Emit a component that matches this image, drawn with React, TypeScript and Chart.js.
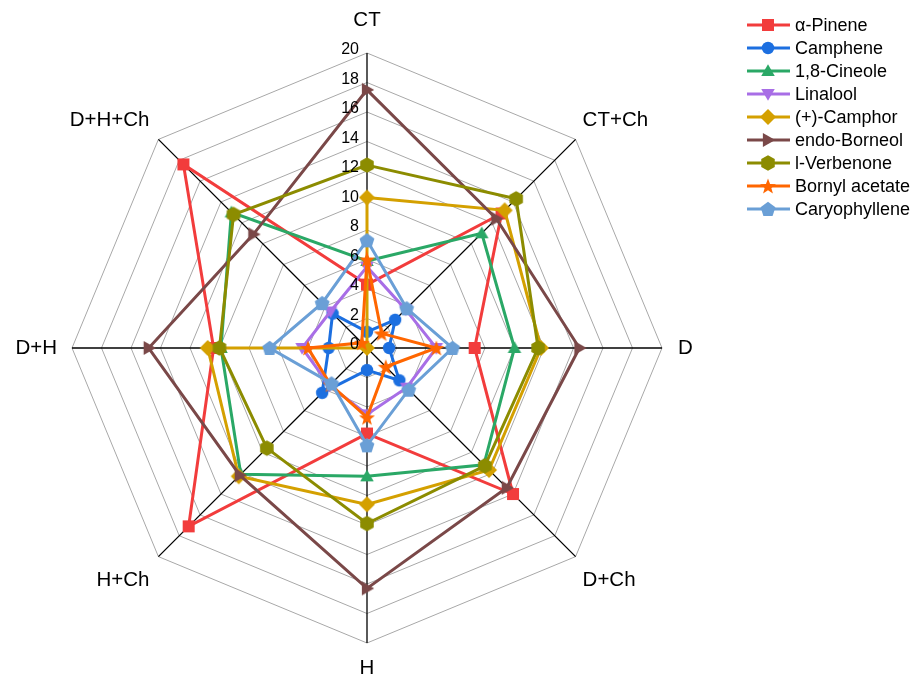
import React, { useEffect, useRef } from 'react';
import { Chart, registerables } from 'chart.js';

Chart.register(...registerables);

// ---------- data ----------
const categories = ['CT', 'CT+Ch', 'D', 'D+Ch', 'H', 'H+Ch', 'D+H', 'D+H+Ch'];
const seriesNames = ['α-Pinene', 'Camphene', '1,8-Cineole', 'Linalool', '(+)-Camphor', 'endo-Borneol', 'l-Verbenone', 'Bornyl acetate', 'Caryophyllene'];

const alphaPinene = [4.3, 12.9, 7.3, 14.0, 5.8, 17.1, 10.4, 17.6];
const camphene = [1.1, 2.7, 1.5, 3.1, 1.5, 4.3, 2.6, 3.3];
const cineole = [5.9, 11.0, 10.0, 11.2, 8.7, 12.1, 9.9, 13.0];
const linalool = [5.5, 3.7, 4.7, 3.8, 4.5, 3.6, 4.4, 3.5];
const camphor = [10.2, 13.2, 11.8, 11.7, 10.6, 12.3, 10.8, 0];
const borneol = [17.5, 12.4, 14.4, 13.4, 16.3, 12.2, 14.8, 10.9];
const verbenone = [12.4, 14.3, 11.6, 11.3, 11.9, 9.6, 10.0, 12.8];
const bornylAcetate = [6.0, 1.4, 4.7, 1.8, 4.7, 3.5, 4.0, 0.5];
const caryophyllene = [7.3, 3.8, 5.8, 4.0, 6.6, 3.4, 6.6, 4.3];

const tickValues = [0, 2, 4, 6, 8, 10, 12, 14, 16, 18, 20];

const seriesValues = [alphaPinene, camphene, cineole, linalool, camphor, borneol, verbenone, bornylAcetate, caryophyllene];
const seriesColors = ['#f23c3c', '#1c6fe0', '#2aa866', '#a86ee6', '#d4a000', '#7a4848', '#8c8c00', '#ff6600', '#6a9fd6'];
const seriesShapes = ['square', 'circle', 'triangleUp', 'triangleDown', 'diamond', 'triangleRight', 'hexagon', 'star', 'pentagon'];

const FONT = '"Liberation Sans", Arial, Helvetica, sans-serif';

function regularPolygon(ctx: CanvasRenderingContext2D, cx: number, cy: number, n: number, r: number, start: number) {
  for (let k = 0; k < n; k++) {
    const a = start + (k * 2 * Math.PI) / n;
    const x = cx + r * Math.cos(a);
    const y = cy + r * Math.sin(a);
    if (k === 0) ctx.moveTo(x, y);
    else ctx.lineTo(x, y);
  }
  ctx.closePath();
}

function makeMarker(shape: string, color: string): HTMLCanvasElement {
  const s = 20;
  const c = document.createElement('canvas');
  c.width = s;
  c.height = s;
  const ctx = c.getContext('2d') as CanvasRenderingContext2D;
  const cx = s / 2;
  const cy = s / 2;
  ctx.fillStyle = color;
  ctx.beginPath();
  const up = -Math.PI / 2;
  switch (shape) {
    case 'square':
      ctx.rect(cx - 6, cy - 6, 12, 12);
      break;
    case 'circle':
      ctx.arc(cx, cy, 6.2, 0, Math.PI * 2);
      break;
    case 'triangleUp':
      regularPolygon(ctx, cx, cy + 1, 3, 7.8, up);
      break;
    case 'triangleDown':
      regularPolygon(ctx, cx, cy - 1, 3, 7.8, Math.PI / 2);
      break;
    case 'diamond':
      regularPolygon(ctx, cx, cy, 4, 8, up);
      break;
    case 'triangleRight':
      regularPolygon(ctx, cx - 1, cy, 3, 8.2, 0);
      break;
    case 'hexagon':
      regularPolygon(ctx, cx, cy, 6, 7.8, up);
      break;
    case 'star': {
      for (let k = 0; k < 10; k++) {
        const r = k % 2 === 0 ? 8.4 : 3.5;
        const a = up + (k * Math.PI) / 5;
        const x = cx + r * Math.cos(a);
        const y = cy + 0.8 + r * Math.sin(a);
        if (k === 0) ctx.moveTo(x, y);
        else ctx.lineTo(x, y);
      }
      ctx.closePath();
      break;
    }
    case 'pentagon':
      regularPolygon(ctx, cx, cy + 0.6, 5, 7.8, up);
      break;
  }
  ctx.fill();
  return c;
}

export default function App() {
  const canvasRef = useRef<HTMLCanvasElement | null>(null);

  useEffect(() => {
    const canvas = canvasRef.current;
    if (!canvas) return;
    const markers = seriesShapes.map((sh, i) => makeMarker(sh, seriesColors[i]));

    const overlay = {
      id: 'overlay',
      afterDatasetsDraw(chart: any) {
        const scale = chart.scales.r;
        const ctx: CanvasRenderingContext2D = chart.ctx;
        ctx.save();
        ctx.font = `16px ${FONT}`;
        ctx.fillStyle = '#000';
        ctx.textAlign = 'right';
        ctx.textBaseline = 'middle';
        tickValues.forEach((v) => {
          const d = scale.getDistanceFromCenterForValue(v);
          ctx.fillText(String(v), scale.xCenter - 8, scale.yCenter - d - 3);
        });
        ctx.restore();
      },
      afterDraw(chart: any) {
        const scale = chart.scales.r;
        const ctx: CanvasRenderingContext2D = chart.ctx;
        ctx.save();
        // point labels
        ctx.font = `20.5px ${FONT}`;
        ctx.fillStyle = '#000';
        ctx.textBaseline = 'middle';
        categories.forEach((lab, i) => {
          const p = scale.getPointPosition(i, scale.drawingArea);
          const dx = p.x - scale.xCenter;
          const dy = p.y - scale.yCenter;
          let x = p.x;
          let y = p.y;
          let align: CanvasTextAlign = 'center';
          if (Math.abs(dx) < 1) {
            y = dy < 0 ? p.y - 33 : p.y + 25;
          } else if (Math.abs(dy) < 1) {
            align = dx > 0 ? 'left' : 'right';
            x = dx > 0 ? p.x + 16 : p.x - 15;
          } else {
            align = dx > 0 ? 'left' : 'right';
            x = p.x + (dx > 0 ? 7 : -9);
            y = dy < 0 ? p.y - 19 : p.y + 24;
          }
          ctx.textAlign = align;
          ctx.fillText(lab, x, y);
        });
        // legend
        ctx.font = `18px ${FONT}`;
        ctx.textAlign = 'left';
        seriesNames.forEach((name, i) => {
          const y = 25 + i * 23;
          ctx.strokeStyle = seriesColors[i];
          ctx.lineWidth = 3;
          ctx.beginPath();
          ctx.moveTo(747, y);
          ctx.lineTo(790, y);
          ctx.stroke();
          const m = markers[i];
          ctx.drawImage(m, 768 - m.width / 2, y - m.height / 2);
          ctx.fillStyle = '#000';
          ctx.fillText(name, 795, y + 1);
        });
        ctx.restore();
      },
    };

    const n = seriesNames.length;
    const chart = new Chart(canvas, {
      type: 'radar',
      data: {
        labels: categories,
        datasets: seriesNames.map((name, i) => ({
          label: name,
          data: seriesValues[i],
          borderColor: seriesColors[i],
          backgroundColor: seriesColors[i],
          borderWidth: 3,
          fill: false,
          tension: 0,
          pointStyle: markers[i] as any,
          pointRadius: 7,
          pointHoverRadius: 7,
          order: n - i,
        })),
      },
      options: {
        responsive: false,
        devicePixelRatio: 1,
        animation: false,
        layout: { padding: { left: 72, top: 53, right: 253, bottom: 35 } },
        plugins: {
          legend: { display: false },
          tooltip: { enabled: false },
          title: { display: false },
        },
        scales: {
          r: {
            min: 0,
            max: 20,
            beginAtZero: true,
            ticks: { stepSize: 2, display: false },
            grid: { color: '#a8a8a8', lineWidth: 1, circular: false },
            angleLines: { color: '#000', lineWidth: 1.3 },
            pointLabels: { display: false },
          },
        },
      },
      plugins: [overlay],
    } as any);
    return () => chart.destroy();
  }, []);

  return (
    <div style={{ position: 'fixed', left: 0, top: 0, width: 915, height: 678, background: '#fff' }}>
      <canvas ref={canvasRef} width={915} height={678} style={{ display: 'block' }} />
    </div>
  );
}
